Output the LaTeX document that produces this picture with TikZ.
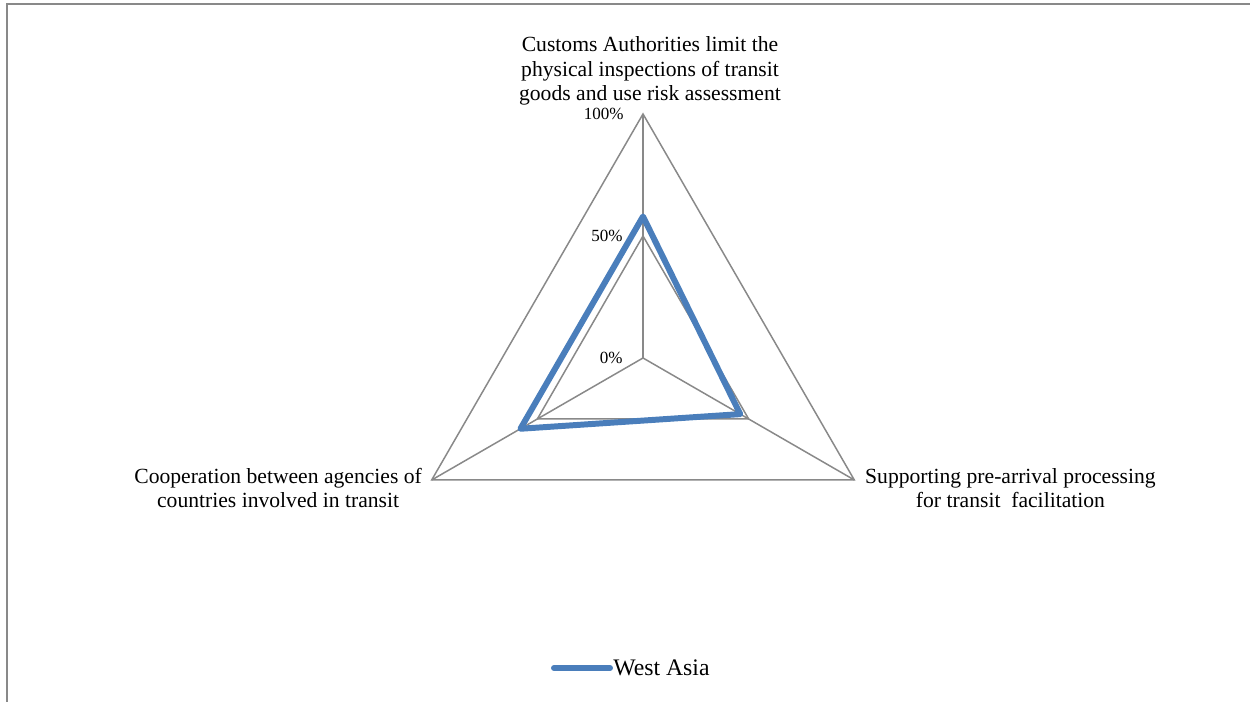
\documentclass[tikz,border=0pt]{standalone}
\usepackage{fontspec}
\setmainfont{Liberation Serif}
\usetikzlibrary{calc}
\definecolor{gridgray}{HTML}{898989}
\definecolor{seriesblue}{HTML}{4A7EBB}
\tikzset{
  grid/.style={draw=gridgray, line width=0.85pt},
  series/.style={draw=seriesblue, line width=3.4pt, line join=round, line cap=round},
  axislabel/.style={align=center, inner sep=0pt, font=\fontsize{12.3}{13.9}\selectfont},
  ticklabel/.style={anchor=east, inner sep=0pt, font=\fontsize{9.7}{11}\selectfont},
}
\begin{document}
\begin{tikzpicture}

    \useasboundingbox (0,0) rectangle (25,14.04);

    % Frame of the chart area (left and top edges)
    \draw[gridgray, line width=1.1pt] (0.14,0) -- (0.14,13.96) -- (25,13.96);

    % Define the number of axes and the radius of the chart
    \def\n{3}
    \def\radius{4.88}
    \coordinate (O) at (12.86,6.88);

    % Loop to place the axis ends, the 50% points and the data points
    \foreach \i/\v in {0/0.58,1/0.46,2/0.58} {
        \pgfmathsetmacro{\angle}{90 - \i * 360 / \n}
        \pgfmathsetmacro{\half}{0.5 * \radius}
        \pgfmathsetmacro{\dist}{\v * \radius}
        \coordinate (A\i) at ($(O)+(\angle:\radius)$);
        \coordinate (H\i) at ($(O)+(\angle:\half)$);
        \coordinate (D\i) at ($(O)+(\angle:\dist)$);
    }

    % Grid: spokes and the 50% and 100% rings
    \foreach \i in {0,...,2} {
        \draw[grid] (O) -- (A\i);
    }
    \draw[grid] (H0) -- (H1) -- (H2) -- cycle;
    \draw[grid] (A0) -- (A1) -- (A2) -- cycle;

    % Data series
    \draw[series] (D0) -- (D1) -- (D2) -- cycle;

    % Scale labels
    \node[ticklabel] (T100) at ($(A0)+(-0.38,0)$) {100\%};
    \node[ticklabel] (T50) at ($(H0)+(-0.40,0)$) {50\%};
    \node[ticklabel] (T0) at ($(O)+(-0.40,0)$) {0\%};

    % Axis labels
    \node[axislabel] (L0) at ($(A0)+(0.14,0.86)$) {Customs Authorities limit the\\physical inspections of transit\\goods and use risk assessment};
    \node[axislabel, anchor=east] (L2) at ($(A2)+(-0.19,-0.16)$) {Cooperation between agencies of\\countries involved in transit};
    \node[axislabel, anchor=west] (L1) at ($(A1)+(0.21,-0.16)$) {Supporting pre-arrival processing\\for transit\ \ facilitation};

    % Legend
    \coordinate (K) at (11.08,0.68);
    \node[anchor=west, inner sep=0pt, font=\fontsize{13.5}{15}\selectfont] (KT) at (12.26,0.68) {West Asia};
    \draw[series] (K) -- ($(KT.west)+(-0.06,0)$);

\end{tikzpicture}
\end{document}
